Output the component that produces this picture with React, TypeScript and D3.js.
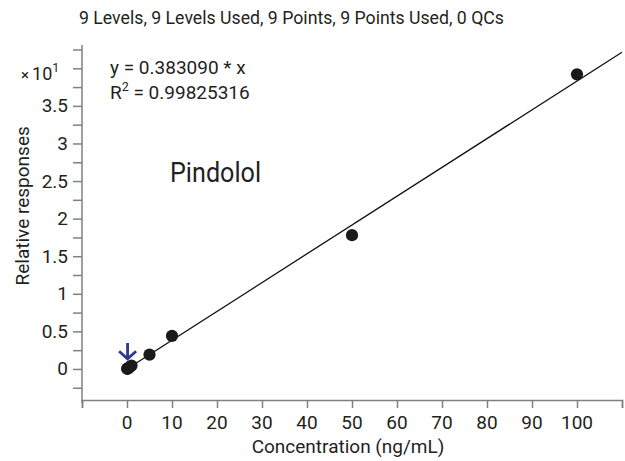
import React, { useEffect, useRef } from 'react';
import * as d3 from 'd3';

// calibration levels (ng/mL) and relative responses (x 10^1)
const concentrations = [0.05, 0.1, 0.2, 0.5, 1, 5, 10, 50, 100];
const responses = [0.002, 0.004, 0.008, 0.02, 0.045, 0.19, 0.44, 1.78, 3.92];
const slope = 0.038309; // fit y = 0.383090 * x, shown in x10^1 units
const xTicks = [-10, 0, 10, 20, 30, 40, 50, 60, 70, 80, 90, 100, 110];
const xTickLabels = ['', '0', '10', '20', '30', '40', '50', '60', '70', '80', '90', '100', ''];
const yTicks = [-0.25, 0, 0.25, 0.5, 0.75, 1, 1.25, 1.5, 1.75, 2, 2.25, 2.5, 2.75, 3, 3.25, 3.5, 3.75, 4, 4.25];
const yTickLabels = ['0', '0.5', '1', '1.5', '2', '2.5', '3', '3.5'];

const FONT = 'Roboto, "Liberation Sans", sans-serif';

function CalibrationChart({ width = 625, height = 461 }) {
  const svgRef = useRef<SVGSVGElement>(null);

  useEffect(() => {
    const svg = d3.select(svgRef.current);
    svg.selectAll('*').remove();

    const x = d3.scaleLinear().domain([-10, 110]).range([82, 622]);
    const y = d3.scaleLinear().domain([-0.413, 4.31]).range([400, 45]);
    const axisColor = '#808080';
    const textColor = '#231f20';

    const txt = (px: number, py: number, size: number, anchor = 'start') =>
      svg.append('text')
        .attr('x', px).attr('y', py)
        .attr('text-anchor', anchor)
        .attr('font-family', FONT).attr('font-size', size).attr('fill', textColor);

    txt(79, 24, 18.5)
      .attr('textLength', 425).attr('lengthAdjust', 'spacingAndGlyphs')
      .text('9 Levels, 9 Levels Used, 9 Points, 9 Points Used, 0 QCs');

    // y axis
    const yAxis = svg.append('g').attr('transform', `translate(${x(-10)},0)`)
      .call(d3.axisLeft(y).tickValues(yTicks).tickSize(9).tickFormat(() => ''));
    yAxis.select('.domain').attr('d', `M0,${y(4.31)}V${y.range()[0] + 3}`);
    yAxis.selectAll('line, path').attr('stroke', axisColor).attr('stroke-width', 1.5);

    yTickLabels.forEach(d => {
      txt(68, y(+d) + 6.5, 19, 'end').text(d);
    });

    // axis multiplier in place of the "4" label
    const mult = txt(21, y(4) + 12, 18);
    mult.append('tspan').attr('font-size', 15).text('\u00d7');
    mult.append('tspan').attr('dx', 3).text('10');
    mult.append('tspan').attr('dy', -8).attr('font-size', 12.5).text('1');

    // x axis
    const xAxis = svg.append('g').attr('transform', `translate(0,${y.range()[0]})`)
      .call(d3.axisBottom(x).tickValues(xTicks).tickSize(8).tickFormat(() => ''));
    xAxis.selectAll('line, path').attr('stroke', axisColor).attr('stroke-width', 1.5);

    xTicks.forEach((d, i) => {
      txt(x(d), 429, 19, 'middle').text(xTickLabels[i]);
    });

    txt(348, 453, 19, 'middle').text('Concentration (ng/mL)');

    svg.append('text')
      .attr('transform', `translate(29, ${y(2.17)}) rotate(-90)`)
      .attr('text-anchor', 'middle')
      .attr('font-family', FONT).attr('font-size', 19).attr('fill', textColor)
      .text('Relative responses');

    // fit line
    const line = d3.line<number>().x(d => x(d)).y(d => y(slope * d));
    svg.append('path')
      .attr('d', line([0, 110]))
      .attr('fill', 'none').attr('stroke', '#111').attr('stroke-width', 1.3);

    // points
    svg.selectAll('circle').data(concentrations).enter().append('circle')
      .attr('cx', d => x(d)).attr('cy', (d, i) => y(responses[i]))
      .attr('r', 6.1).attr('fill', '#1a1a1a');

    // arrow marking lowest level
    const ax = x(0.13);
    svg.append('path')
      .attr('d', `M${ax},${y(0.346)}V${y(0.135)}M${ax - 8.5},${y(0.235)}L${ax},${y(0.135)}L${ax + 8.5},${y(0.235)}`)
      .attr('fill', 'none').attr('stroke', '#2b3990').attr('stroke-width', 2.8);

    // equation
    txt(110, 74, 19).text('y = 0.383090 * x');
    const r2 = txt(110, 99, 19);
    r2.append('tspan').text('R');
    r2.append('tspan').attr('dy', -8).attr('font-size', 12.5).text('2');
    r2.append('tspan').attr('dy', 8).text(' = 0.99825316');

    txt(170, 182, 27)
      .attr('textLength', 91).attr('lengthAdjust', 'spacingAndGlyphs')
      .text('Pindolol');
  }, [width, height]);

  return <svg ref={svgRef} width={width} height={height}
    style={{ position: 'absolute', left: 0, top: 0, background: '#fff' }}></svg>;
}

export default function App() {
  return <CalibrationChart />;
}
